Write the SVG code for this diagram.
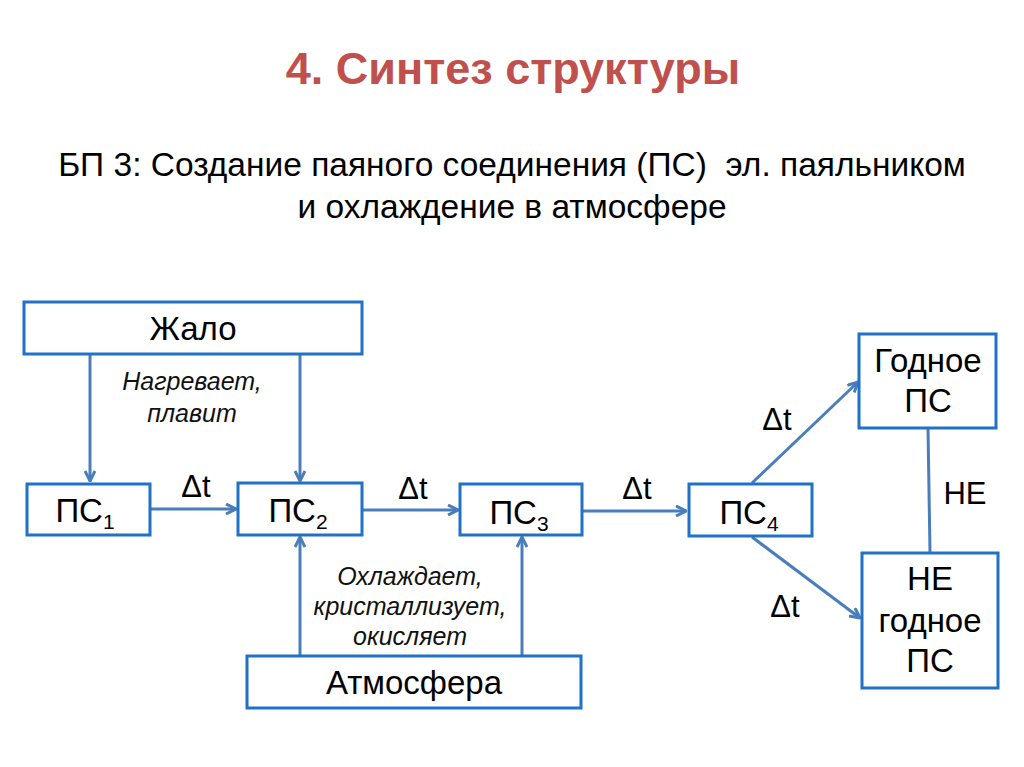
<svg xmlns="http://www.w3.org/2000/svg" width="1024" height="767" viewBox="0 0 1024 767">
<style>
.box{fill:#fff;stroke:#1f72c4;stroke-width:3}
.lbl{font-family:"Liberation Sans",Arial,sans-serif;font-size:33px;fill:#000;text-anchor:middle}
.it{font-family:"Liberation Sans",Arial,sans-serif;font-size:25px;font-style:italic;fill:#111;text-anchor:middle}
.dt{font-family:"Liberation Sans",Arial,sans-serif;font-size:31px;fill:#000;text-anchor:middle}
.con{stroke:#4a7ebb;stroke-width:3;fill:none}
</style>
<defs>
<marker id="ah" viewBox="0 0 12 12" refX="11" refY="6" markerWidth="12" markerHeight="12" markerUnits="userSpaceOnUse" orient="auto">
<path d="M1,1 L11,6 L1,11" fill="none" stroke="#4a7ebb" stroke-width="3"/>
</marker>
</defs>
<rect width="1024" height="767" fill="#fff"/>
<text x="513" y="84" font-family="Liberation Sans,Arial,sans-serif" font-size="45" font-weight="bold" fill="#c0504d" text-anchor="middle">4. Синтез структуры</text>
<text x="512" y="176" font-family="Liberation Sans,Arial,sans-serif" font-size="33.5" fill="#000" text-anchor="middle" xml:space="preserve">БП 3: Создание паяного соединения (ПС)  эл. паяльником</text>
<text x="512" y="218" font-family="Liberation Sans,Arial,sans-serif" font-size="33.5" fill="#000" text-anchor="middle">и охлаждение в атмосфере</text>
<g id="connectors">
<line class="con" x1="90" y1="355" x2="90" y2="481" marker-end="url(#ah)"/>
<line class="con" x1="300" y1="355" x2="300" y2="481" marker-end="url(#ah)"/>
<line class="con" x1="150" y1="509" x2="236" y2="509" marker-end="url(#ah)"/>
<line class="con" x1="363" y1="510" x2="458" y2="510" marker-end="url(#ah)"/>
<line class="con" x1="582" y1="511" x2="686" y2="511" marker-end="url(#ah)"/>
<line class="con" x1="300" y1="655" x2="300" y2="537" marker-end="url(#ah)"/>
<line class="con" x1="522" y1="655" x2="522" y2="537" marker-end="url(#ah)"/>
<line class="con" x1="752" y1="483" x2="858" y2="382" marker-end="url(#ah)"/>
<line class="con" x1="752" y1="537" x2="860" y2="618" marker-end="url(#ah)"/>
<line class="con" x1="928" y1="428" x2="930" y2="552"/>
<text class="dt" x="196" y="497">Δt</text>
<text class="dt" x="413" y="499">Δt</text>
<text class="dt" x="637" y="499">Δt</text>
<text class="dt" x="777" y="430">Δt</text>
<text class="dt" x="785" y="617">Δt</text>
<text class="lbl" x="965" y="504" style="font-size:31px">НЕ</text>
<text class="it" x="192" y="390">Нагревает,</text>
<text class="it" x="192" y="422">плавит</text>
<text class="it" x="410" y="585">Охлаждает,</text>
<text class="it" x="410" y="615">кристаллизует,</text>
<text class="it" x="410" y="645">окисляет</text>
</g>
<g id="zhalo"><rect class="box" x="24" y="302" width="338" height="52"/><text class="lbl" x="193" y="340">Жало</text></g>
<g id="ps1"><rect class="box" x="27" y="484" width="123" height="51"/><text class="lbl" x="85" y="522">ПС<tspan font-size="21" dy="7">1</tspan></text></g>
<g id="ps2"><rect class="box" x="238" y="483" width="124" height="52"/><text class="lbl" x="298" y="522">ПС<tspan font-size="21" dy="7">2</tspan></text></g>
<g id="ps3"><rect class="box" x="460" y="484" width="122" height="51"/><text class="lbl" x="519" y="524">ПС<tspan font-size="21" dy="7">3</tspan></text></g>
<g id="ps4"><rect class="box" x="689" y="484" width="123" height="52"/><text class="lbl" x="749" y="524">ПС<tspan font-size="21" dy="7">4</tspan></text></g>
<g id="godnoe"><rect class="box" x="859" y="334" width="137" height="94"/><text class="lbl" x="928" y="372">Годное</text><text class="lbl" x="928" y="412">ПС</text></g>
<g id="negodnoe"><rect class="box" x="862" y="553" width="136" height="135"/><text class="lbl" x="930" y="590">НЕ</text><text class="lbl" x="930" y="632">годное</text><text class="lbl" x="930" y="672">ПС</text></g>
<g id="atmosfera"><rect class="box" x="247" y="656" width="334" height="52"/><text class="lbl" x="414" y="694">Атмосфера</text></g>
</svg>
